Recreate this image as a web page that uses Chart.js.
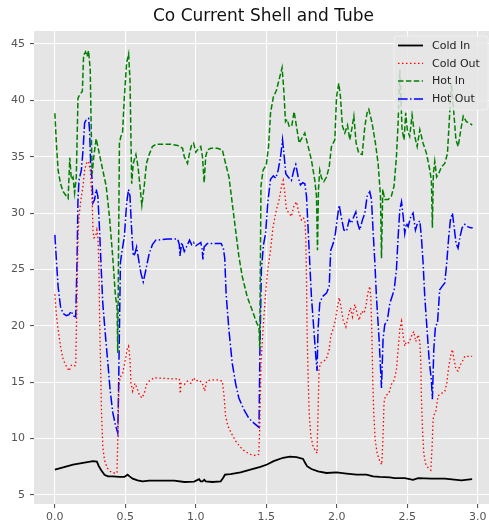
<!DOCTYPE html>
<html>
<head>
<meta charset="utf-8">
<title>Co Current Shell and Tube</title>
<script src="https://cdn.jsdelivr.net/npm/chart.js@4"></script>
<style>
  html, body { margin: 0; padding: 0; background: #fff; overflow: hidden; }
  #chart { display: block; }
</style>
</head>
<body>
<canvas id="chart" width="495" height="529"></canvas>
<script>
// Temperatures (deg C) against time for the co-current run
var coldInX = [
    0, 0.059, 0.129, 0.2, 0.27, 0.298, 0.312, 0.329, 0.352, 0.376,
    0.411, 0.458, 0.493, 0.516, 0.53, 0.552, 0.587, 0.622, 0.669, 0.728,
    0.847, 0.918, 0.988, 1.023, 1.035, 1.047, 1.06, 1.07, 1.117, 1.176,
    1.193, 1.207, 1.246, 1.317, 1.387, 1.458, 1.505, 1.552, 1.619, 1.667,
    1.714, 1.761, 1.773, 1.789, 1.82, 1.867, 1.927, 1.998, 2.069, 2.14,
    2.21, 2.257, 2.305, 2.376, 2.411, 2.482, 2.541, 2.577, 2.671, 2.766,
    2.884, 2.96
];
var coldInY = [
    7.25, 7.45, 7.7, 7.85, 8.0, 7.96, 7.55, 7.2, 6.8, 6.65,
    6.65, 6.6, 6.6, 6.8, 6.65, 6.45, 6.3, 6.2, 6.27, 6.27,
    6.27, 6.15, 6.18, 6.4, 6.2, 6.2, 6.35, 6.2, 6.15, 6.2,
    6.5, 6.8, 6.85, 7.0, 7.25, 7.5, 7.7, 8.0, 8.3, 8.4,
    8.35, 8.2, 7.9, 7.55, 7.3, 7.1, 6.95, 7.0, 6.9, 6.8,
    6.8, 6.65, 6.6, 6.57, 6.5, 6.5, 6.35, 6.5, 6.45, 6.45,
    6.3, 6.4
];

var coldOutX = [
    0, 0.012, 0.023, 0.04, 0.059, 0.082, 0.101, 0.117, 0.134, 0.148,
    0.157, 0.164, 0.171, 0.185, 0.2, 0.211, 0.223, 0.239, 0.251, 0.258,
    0.265, 0.27, 0.277, 0.289, 0.298, 0.305, 0.312, 0.317, 0.324, 0.331,
    0.34, 0.352, 0.371, 0.392, 0.415, 0.441, 0.448, 0.453, 0.462, 0.481,
    0.5, 0.512, 0.523, 0.533, 0.54, 0.552, 0.568, 0.582, 0.599, 0.617,
    0.634, 0.65, 0.669, 0.704, 0.76, 0.824, 0.883, 0.89, 0.895, 0.918,
    0.941, 0.965, 0.984, 1.0, 1.023, 1.047, 1.063, 1.077, 1.106, 1.153,
    1.188, 1.2, 1.211, 1.228, 1.251, 1.282, 1.312, 1.345, 1.387, 1.423,
    1.446, 1.453, 1.462, 1.477, 1.493, 1.51, 1.528, 1.548, 1.572, 1.591,
    1.608, 1.62, 1.631, 1.643, 1.662, 1.678, 1.695, 1.714, 1.73, 1.749,
    1.761, 1.773, 1.78, 1.785, 1.789, 1.797, 1.804, 1.816, 1.832, 1.849,
    1.86, 1.867, 1.874, 1.884, 1.903, 1.927, 1.946, 1.957, 1.974, 1.99,
    2.005, 2.017, 2.029, 2.045, 2.064, 2.08, 2.097, 2.111, 2.128, 2.144,
    2.158, 2.175, 2.192, 2.206, 2.22, 2.234, 2.241, 2.248, 2.255, 2.262,
    2.272, 2.286, 2.305, 2.319, 2.328, 2.335, 2.345, 2.369, 2.387, 2.407,
    2.423, 2.435, 2.447, 2.459, 2.471, 2.482, 2.494, 2.511, 2.53, 2.546,
    2.56, 2.577, 2.589, 2.596, 2.6, 2.608, 2.617, 2.629, 2.648, 2.667,
    2.676, 2.683, 2.69, 2.702, 2.719, 2.742, 2.766, 2.78, 2.794, 2.809,
    2.82, 2.832, 2.846, 2.86, 2.874, 2.889, 2.908, 2.931, 2.96
];
var coldOutY = [
    22.8, 20.8, 19.7, 18.2, 17.0, 16.4, 16.0, 16.5, 16.4, 16.5,
    22.6, 27.9, 29.7, 31.2, 32.4, 33.8, 34.4, 34.6, 33.8, 32.4,
    30.9, 28.5, 27.8, 27.9, 28.5, 27.9, 25.6, 21.1, 16.7, 12.3,
    9.3, 8.1, 7.4, 7.1, 6.95, 6.95, 10.8, 14.3, 15.4, 15.8,
    17.0, 17.9, 18.2, 17.0, 14.9, 14.2, 14.9, 14.5, 13.9, 13.6,
    14.0, 14.8, 15.1, 15.4, 15.35, 15.3, 15.3, 14.0, 14.9, 14.8,
    15.1, 14.9, 15.4, 15.1, 15.2, 14.9, 14.2, 15.1, 15.2, 15.2,
    15.1, 13.8, 12.0, 11.1, 10.5, 9.8, 9.3, 8.9, 8.6, 8.5,
    8.6, 10.8, 16.7, 19.7, 22.6, 25.0, 26.5, 28.8, 30.3, 31.2,
    32.4, 32.9, 31.8, 30.3, 30.0, 29.7, 30.6, 31.0, 30.1, 29.4,
    29.6, 29.4, 27.9, 24.1, 19.7, 15.2, 12.3, 10.2, 9.3, 8.9,
    8.7, 12.3, 16.1, 16.7, 16.8, 17.1, 17.9, 19.1, 19.7, 20.5,
    21.7, 22.5, 21.7, 20.5, 19.9, 20.8, 21.6, 20.8, 21.9, 21.1,
    20.5, 21.3, 21.1, 21.7, 22.9, 23.5, 22.6, 19.7, 15.2, 12.3,
    9.9, 8.7, 8.0, 7.7, 10.2, 13.2, 13.8, 14.0, 14.8, 15.2,
    16.1, 17.9, 19.7, 20.4, 19.1, 18.2, 18.6, 18.5, 19.1, 19.5,
    18.6, 19.2, 18.6, 16.7, 13.8, 10.8, 8.7, 7.8, 7.4, 7.2,
    9.3, 11.7, 12.1, 12.4, 13.8, 14.0, 14.2, 14.9, 16.4, 17.4,
    17.9, 17.0, 16.1, 16.0, 16.5, 16.8, 17.3, 17.3, 17.3
];

var hotInX = [
    0, 0.012, 0.023, 0.04, 0.059, 0.082, 0.094, 0.106, 0.117, 0.129,
    0.14, 0.152, 0.164, 0.176, 0.195, 0.204, 0.218, 0.229, 0.239, 0.251,
    0.258, 0.265, 0.276, 0.293, 0.34, 0.364, 0.387, 0.41, 0.43, 0.441,
    0.446, 0.451, 0.458, 0.468, 0.48, 0.493, 0.509, 0.523, 0.533, 0.545,
    0.556, 0.575, 0.59, 0.606, 0.617, 0.634, 0.65, 0.669, 0.692, 0.716,
    0.824, 0.871, 0.906, 0.918, 0.941, 0.955, 0.969, 0.984, 1.0, 1.017,
    1.035, 1.047, 1.059, 1.07, 1.082, 1.106, 1.153, 1.188, 1.211, 1.235,
    1.258, 1.282, 1.305, 1.329, 1.364, 1.399, 1.434, 1.448, 1.453, 1.458,
    1.462, 1.477, 1.5, 1.516, 1.53, 1.55, 1.572, 1.596, 1.612, 1.624,
    1.636, 1.648, 1.662, 1.68, 1.697, 1.714, 1.733, 1.75, 1.773, 1.797,
    1.82, 1.844, 1.856, 1.863, 1.87, 1.879, 1.892, 1.908, 1.927, 1.946,
    1.962, 1.986, 1.998, 2.014, 2.026, 2.04, 2.057, 2.076, 2.092, 2.107,
    2.121, 2.137, 2.156, 2.18, 2.199, 2.215, 2.227, 2.25, 2.274, 2.293,
    2.31, 2.317, 2.326, 2.34, 2.364, 2.387, 2.406, 2.423, 2.435, 2.447,
    2.463, 2.477, 2.489, 2.5, 2.517, 2.534, 2.553, 2.57, 2.589, 2.612,
    2.636, 2.66, 2.671, 2.678, 2.685, 2.695, 2.708, 2.723, 2.742, 2.766,
    2.785, 2.801, 2.813, 2.83, 2.845, 2.861, 2.88, 2.897, 2.92, 2.943,
    2.96
];
var hotInY = [
    38.85, 35.9, 33.8, 32.6, 31.9, 31.5, 31.3, 34.9, 33.0, 33.2,
    31.8, 33.2, 40.2, 40.5, 40.8, 44.0, 44.3, 43.9, 44.4, 42.7,
    37.4, 33.5, 35.0, 36.6, 33.8, 32.4, 29.7, 26.2, 22.6, 21.7,
    17.6, 25.6, 36.2, 36.8, 37.1, 40.3, 43.3, 44.1, 41.8, 32.6,
    34.4, 35.2, 34.1, 32.1, 30.7, 32.4, 34.4, 35.2, 35.9, 36.1,
    36.1, 36.0, 35.75, 35.0, 34.4, 35.3, 36.0, 36.2, 35.4, 35.7,
    35.9, 35.0, 32.7, 35.0, 35.6, 35.75, 35.75, 35.6, 34.4, 33.2,
    30.9, 28.5, 26.2, 24.4, 22.6, 21.4, 20.2, 19.9, 18.0, 25.6,
    32.4, 33.8, 34.3, 35.9, 38.9, 40.3, 40.9, 42.1, 42.9, 40.9,
    38.1, 38.3, 37.7, 37.7, 39.0, 37.7, 36.2, 36.6, 37.1, 35.9,
    34.7, 32.9, 31.5, 26.7, 32.1, 33.8, 33.1, 32.8, 33.2, 34.1,
    35.9, 36.5, 40.3, 41.5, 40.3, 37.7, 37.1, 37.8, 36.5, 37.5,
    38.6, 36.2, 35.3, 35.2, 37.7, 38.9, 39.2, 38.0, 36.2, 34.4,
    31.5, 26.0, 32.1, 31.2, 31.2, 31.5, 32.4, 35.0, 38.0, 42.7,
    37.4, 36.5, 38.9, 37.4, 36.8, 38.7, 36.8, 35.9, 37.4, 36.2,
    35.3, 33.8, 32.9, 28.7, 33.5, 34.6, 33.2, 33.5, 34.1, 34.4,
    35.3, 38.9, 41.5, 38.9, 36.5, 35.9, 37.4, 38.6, 38.1, 38.0,
    37.8
];

var hotOutX = [
    0, 0.012, 0.023, 0.04, 0.059, 0.082, 0.1, 0.117, 0.129, 0.148,
    0.157, 0.164, 0.171, 0.188, 0.2, 0.211, 0.223, 0.239, 0.246, 0.254,
    0.263, 0.27, 0.282, 0.293, 0.305, 0.317, 0.329, 0.34, 0.359, 0.376,
    0.392, 0.411, 0.43, 0.446, 0.451, 0.458, 0.465, 0.477, 0.493, 0.509,
    0.523, 0.533, 0.542, 0.556, 0.568, 0.58, 0.594, 0.61, 0.627, 0.646,
    0.669, 0.692, 0.716, 0.8, 0.871, 0.883, 0.887, 0.9, 0.918, 0.941,
    0.955, 0.97, 0.984, 1.0, 1.035, 1.045, 1.05, 1.059, 1.082, 1.13,
    1.18, 1.195, 1.205, 1.215, 1.235, 1.258, 1.282, 1.305, 1.34, 1.376,
    1.41, 1.448, 1.455, 1.465, 1.48, 1.495, 1.51, 1.53, 1.55, 1.567,
    1.584, 1.601, 1.615, 1.627, 1.638, 1.655, 1.678, 1.695, 1.709, 1.726,
    1.742, 1.758, 1.773, 1.785, 1.797, 1.808, 1.82, 1.837, 1.851, 1.86,
    1.867, 1.879, 1.898, 1.927, 1.946, 1.957, 1.974, 1.99, 2.005, 2.017,
    2.031, 2.05, 2.069, 2.088, 2.104, 2.121, 2.135, 2.148, 2.163, 2.182,
    2.199, 2.215, 2.234, 2.246, 2.257, 2.27, 2.281, 2.3, 2.317, 2.328,
    2.34, 2.359, 2.376, 2.392, 2.407, 2.423, 2.435, 2.447, 2.459, 2.471,
    2.482, 2.494, 2.506, 2.525, 2.541, 2.558, 2.572, 2.589, 2.6, 2.612,
    2.624, 2.64, 2.655, 2.671, 2.678, 2.688, 2.7, 2.714, 2.73, 2.747,
    2.766, 2.78, 2.794, 2.806, 2.82, 2.832, 2.846, 2.86, 2.874, 2.889,
    2.908, 2.927, 2.95, 2.964
];
var hotOutY = [
    28.07, 25.6, 23.5, 21.7, 21.1, 20.9, 21.0, 21.3, 20.9, 20.8,
    25.6, 31.2, 32.9, 33.8, 35.6, 38.0, 38.3, 38.4, 37.4, 34.4,
    33.2, 30.9, 31.2, 32.1, 31.5, 28.5, 25.0, 22.0, 19.1, 16.7,
    14.3, 12.3, 11.2, 10.5, 13.7, 19.6, 25.6, 26.7, 27.9, 30.9,
    32.1, 31.5, 29.1, 26.2, 26.4, 27.0, 25.9, 24.7, 23.9, 25.0,
    26.4, 27.2, 27.6, 27.7, 27.7, 27.2, 26.2, 27.4, 26.6, 27.2,
    27.6, 27.2, 27.4, 27.1, 27.4, 26.8, 25.9, 27.0, 27.3, 27.3,
    27.3, 26.9, 26.0, 22.8, 19.6, 16.7, 14.9, 13.6, 12.6, 11.8,
    11.4, 11.0, 18.2, 25.0, 27.2, 28.2, 30.9, 33.0, 33.3, 33.1,
    33.8, 35.0, 36.5, 35.0, 33.5, 33.2, 32.9, 33.8, 34.3, 33.2,
    32.5, 32.7, 32.6, 31.5, 28.5, 25.6, 22.6, 19.7, 17.3, 16.0,
    19.7, 22.0, 22.6, 22.9, 23.5, 26.7, 27.3, 28.2, 29.7, 30.7,
    29.7, 28.5, 28.4, 29.4, 29.1, 29.7, 30.1, 29.1, 28.5, 29.4,
    30.0, 31.5, 31.9, 31.2, 28.5, 25.6, 22.6, 18.8, 14.5, 18.8,
    20.1, 20.5, 22.0, 22.6, 23.2, 25.0, 27.9, 30.3, 31.0, 29.7,
    28.2, 29.1, 28.8, 29.7, 30.0, 28.5, 29.1, 29.3, 27.9, 25.6,
    22.6, 19.7, 17.0, 15.2, 13.5, 17.9, 20.0, 20.2, 23.2, 23.5,
    23.8, 25.6, 27.9, 29.4, 30.0, 28.8, 27.3, 26.9, 27.9, 28.7,
    29.0, 28.8, 28.7, 28.7
];

var seriesNames = ['Cold In', 'Cold Out', 'Hot In', 'Hot Out'];
var seriesColors = ['#000000', '#ff0000', '#008000', '#0000ff'];
var seriesWidths = [1.8, 1.3, 1.5, 1.5];
// matplotlib '-', ':', '--', '-.' dash patterns
var seriesDashes = [[], [1.5, 2.5], [5.5, 2.4], [9.6, 2.4, 1.5, 2.4]];

var xTickMin = -0.148, xTickMax = 3.108;
var yTickMin = 4.2, yTickMax = 46.15;

function toPoints(xs, ys) {
    return xs.map(function(x, i) { return { x: x, y: ys[i] }; });
}

var pointSets = [
    toPoints(coldInX, coldInY),
    toPoints(coldOutX, coldOutY),
    toPoints(hotInX, hotInY),
    toPoints(hotOutX, hotOutY)
];

var datasets = pointSets.map(function(pts, i) {
    return {
        label: seriesNames[i],
        data: pts,
        borderColor: seriesColors[i],
        borderWidth: seriesWidths[i],
        borderDash: seriesDashes[i],
        pointRadius: 0,
        fill: false,
        tension: 0
    };
});

// Title above the axes, centred on the plot area
var titlePlugin = {
    id: 'plotTitle',
    afterDraw: function(chart) {
        var ctx = chart.ctx;
        var area = chart.chartArea;
        ctx.save();
        ctx.font = '17px "DejaVu Sans"';
        ctx.fillStyle = '#111';
        ctx.textAlign = 'center';
        ctx.textBaseline = 'middle';
        ctx.fillText('Co Current Shell and Tube', (area.left + area.right) / 2, 17);
        ctx.restore();
    }
};

// Legend box in the upper right corner, inside the axes
var legendPlugin = {
    id: 'cornerLegend',
    afterDatasetsDraw: function(chart) {
        var ctx = chart.ctx;
        var area = chart.chartArea;
        var boxRight = area.right - 5;
        var boxLeft = boxRight - 94;
        var boxTop = area.top + 5;
        var boxH = 74;
        ctx.save();
        ctx.beginPath();
        if (ctx.roundRect) {
            ctx.roundRect(boxLeft, boxTop, boxRight - boxLeft, boxH, 3);
        } else {
            ctx.rect(boxLeft, boxTop, boxRight - boxLeft, boxH);
        }
        ctx.fillStyle = 'rgba(229,229,229,0.82)';
        ctx.fill();
        ctx.lineWidth = 1;
        ctx.strokeStyle = 'rgba(242,242,242,0.9)';
        ctx.stroke();

        ctx.font = '11px "DejaVu Sans"';
        ctx.textBaseline = 'middle';
        ctx.textAlign = 'left';
        seriesNames.forEach(function(name, i) {
            var y = boxTop + 9.5 + i * 17.8;
            ctx.beginPath();
            ctx.setLineDash(seriesDashes[i]);
            ctx.strokeStyle = seriesColors[i];
            ctx.lineWidth = seriesWidths[i];
            ctx.moveTo(boxLeft + 4, y);
            ctx.lineTo(boxLeft + 29, y);
            ctx.stroke();
            ctx.setLineDash([]);
            ctx.fillStyle = '#222';
            ctx.fillText(name, boxLeft + 38, y + 0.5);
        });
        ctx.restore();
    }
};

// Grey panel behind the plot
var panelPlugin = {
    id: 'panel',
    beforeDraw: function(chart) {
        var ctx = chart.ctx;
        var a = chart.chartArea;
        ctx.save();
        ctx.fillStyle = '#e5e5e5';
        ctx.fillRect(a.left, a.top, a.right - a.left, a.bottom - a.top);
        ctx.restore();
    }
};

new Chart(document.getElementById('chart'), {
    type: 'line',
    data: { datasets: datasets },
    plugins: [panelPlugin, legendPlugin, titlePlugin],
    options: {
        responsive: false,
        animation: false,
        layout: { padding: { top: 31, right: 2, left: 0, bottom: 0 } },
        plugins: {
            legend: { display: false },
            tooltip: { enabled: false },
            title: { display: false }
        },
        scales: {
            x: {
                type: 'linear',
                min: xTickMin,
                max: xTickMax,
                border: { display: false },
                grid: { color: '#ffffff', lineWidth: 1.1, tickColor: '#555555', tickLength: 4 },
                ticks: {
                    stepSize: 0.5,
                    includeBounds: false,
                    maxRotation: 0,
                    padding: 3,
                    color: '#555555',
                    font: { family: 'DejaVu Sans', size: 11 },
                    callback: function(v) { return v.toFixed(1); }
                },
                afterFit: function(scale) { scale.height = 25; }
            },
            y: {
                type: 'linear',
                min: yTickMin,
                max: yTickMax,
                border: { display: false },
                grid: { color: '#ffffff', lineWidth: 1.1, tickColor: '#555555', tickLength: 4 },
                ticks: {
                    stepSize: 5,
                    includeBounds: false,
                    padding: 5,
                    color: '#555555',
                    font: { family: 'DejaVu Sans', size: 11 },
                    callback: function(v) { return String(v); }
                },
                afterFit: function(scale) { scale.width = 34; }
            }
        }
    }
});
</script>
</body>
</html>
